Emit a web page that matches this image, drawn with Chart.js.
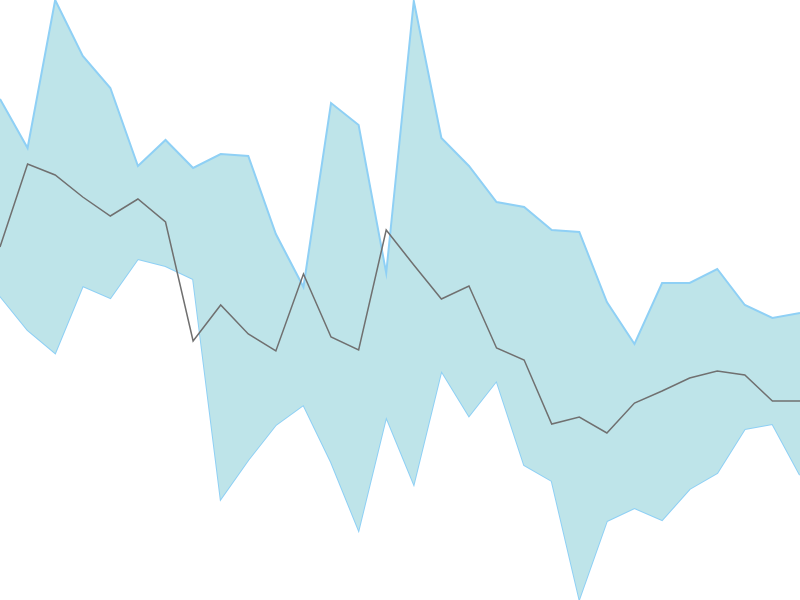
<!DOCTYPE html>
<html>
<head>
<meta charset="utf-8">
<script src="https://cdn.jsdelivr.net/npm/chart.js@4"></script>
<style>
  html, body { margin: 0; padding: 0; background: #fff; }
  #chartContainer { width: 800px; height: 600px; }
</style>
</head>
<body>
<div id="chartContainer"><canvas id="chart"></canvas></div>
<script>
const labels = Array.from({length: 30}, (_, i) => `${i + 1}`);

const upperValues = [501, 452, 600, 544, 512, 434, 460, 432, 446, 444, 366, 313, 497, 475, 327,
                     599, 462, 434, 398, 393, 370, 368, 298, 256, 317, 317, 331, 295, 282, 287];
const lowerValues = [304, 270, 247, 314, 302, 341, 334, 321, 101, 140, 175, 195, 138, 70, 183,
                     116, 229, 184, 219, 135, 119, 1, 79, 92, 80, 111, 127, 171, 176, 125];
const midValues = [353, 436, 425, 403, 384, 401, 378, 259, 295, 266, 249, 326, 263, 250, 370,
                   335, 301, 314, 252, 240, 176, 183, 167, 197, 209, 222, 229, 225, 199, 199];

const yMin = 0;
const yMax = 600;

function drawChart(canvas) {
  new Chart(canvas, {
    type: "line",
    data: {
      labels: labels,
      datasets: [
        {
          data: midValues,
          borderColor: "#707070",
          borderWidth: 1.5,
          pointRadius: 0,
          fill: false
        },
        {
          data: upperValues,
          borderColor: "#8fd0f5",
          backgroundColor: "rgb(190, 228, 233)",
          borderWidth: 2,
          pointRadius: 0,
          fill: "+1"
        },
        {
          data: lowerValues,
          borderColor: "#8fd0f5",
          borderWidth: 2,
          pointRadius: 0,
          fill: false
        }
      ]
    },
    options: {
      animation: false,
      responsive: true,
      maintainAspectRatio: false,
      layout: { padding: 0 },
      plugins: {
        legend: { display: false },
        tooltip: { enabled: false }
      },
      scales: {
        x: { display: false, offset: false },
        y: { display: false, min: yMin, max: yMax }
      }
    }
  });
}

drawChart(document.getElementById("chart"));
</script>
</body>
</html>
